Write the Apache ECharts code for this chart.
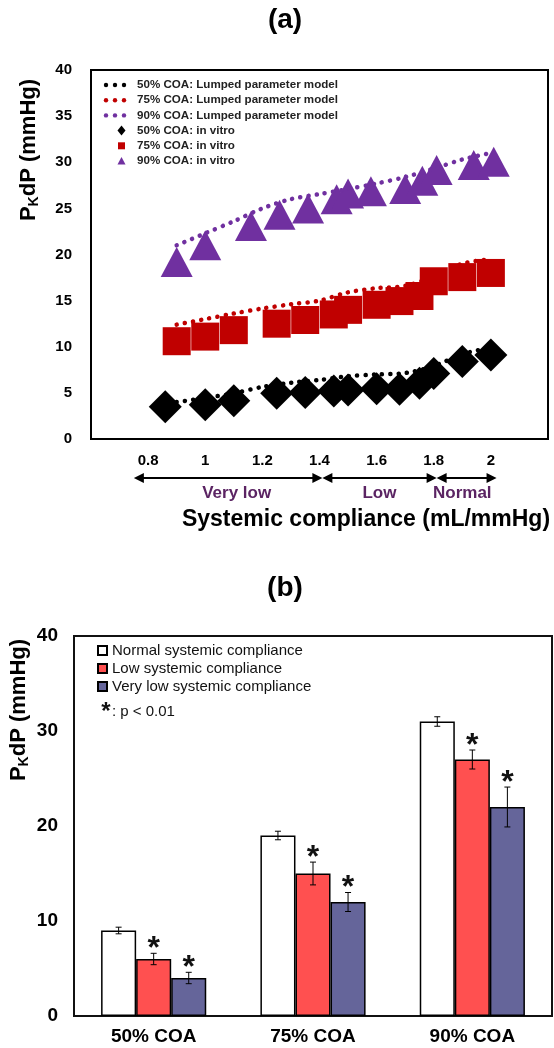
<!DOCTYPE html>
<html><head><meta charset="utf-8">
<script src="https://cdn.jsdelivr.net/npm/echarts@6/dist/echarts.min.js"></script>
<style>html,body{margin:0;padding:0;background:#fff}#c{width:554px;height:1048px}</style>
</head><body><div id="c"></div>
<script>
// ---------- Panel (a) data ----------
const seriesNamesA = ['50% COA: Lumped parameter model','75% COA: Lumped parameter model','90% COA: Lumped parameter model','50% COA: in vitro','75% COA: in vitro','90% COA: in vitro'];
const modelCompliance = [0.9,1.0,1.1,1.2,1.3,1.4,1.5,1.6,1.7,1.8,1.9,2.0];
const model50 = [4.0,4.45,4.95,5.65,6.1,6.4,6.8,7.0,7.15,7.9,9.2,9.9];
const model75 = [12.4,13.0,13.6,14.15,14.6,15.0,15.9,16.35,16.6,17.6,19.0,19.5];
const model90 = [21.0,22.3,23.6,25.0,26.0,26.55,27.1,27.7,28.4,29.3,30.3,31.0];
const compliance50 = [0.86,1.0,1.1,1.25,1.35,1.45,1.5,1.6,1.68,1.75,1.8,1.9,2.0];
const vitro50 = [3.5,3.7,4.15,4.95,5.05,5.2,5.3,5.45,5.4,6.05,7.1,8.4,9.1];
const compliance75 = [0.9,1.0,1.1,1.25,1.35,1.45,1.5,1.6,1.68,1.75,1.8,1.9,2.0];
const vitro75 = [10.6,11.1,11.8,12.5,12.9,13.5,14.0,14.55,14.95,15.5,17.1,17.55,18.0];
const compliance90 = [0.9,1.0,1.16,1.26,1.36,1.46,1.5,1.58,1.7,1.76,1.81,1.94,2.01];
const vitro90 = [19.2,21.0,23.1,24.3,25.0,26.0,26.6,26.85,27.1,28.0,29.15,29.7,30.05];
const complianceRanges = [['Very low',0.75,1.41,1.11],['Low',1.41,1.81,1.61],['Normal',1.81,2.02,1.9]];

// ---------- Panel (b) data ----------
const coaLabels = ['50% COA','75% COA','90% COA'];
const seriesNamesB = ['Normal systemic compliance','Low systemic compliance','Very low systemic compliance'];
const normalVals = [9,19,31];
const normalErr = [0.35,0.45,0.5];
const lowVals = [6,15,27];
const lowErr = [0.6,1.2,1.0];
const veryLowVals = [4,12,22];
const veryLowErr = [0.6,1.0,2.1];
const lowSig = [1,1,1];
const veryLowSig = [1,1,1];

const FONT = '"Liberation Sans", Arial, sans-serif';
const PURPLE_TXT = '#5B2463';
const COLORS_A = ['#000000','#C00000','#7030A0'];
const dotted = (c) => ({color: c, width: 4.5, type: [0.1, 8.2], cap: 'round'});
const zip = (xs, ys) => xs.map((x, i) => [x, ys[i]]);

const errData = [];
[[normalVals, normalErr, [0,0,0]], [lowVals, lowErr, lowSig], [veryLowVals, veryLowErr, veryLowSig]].forEach((s, si) => {
  s[0].forEach((v, ci) => errData.push([ci, si, v, s[1][ci], s[2][ci]]));
});
const GAP = 0.34;

const chart = echarts.init(document.getElementById('c'), null, {renderer: 'canvas'});
chart.setOption({
  animation: false,
  textStyle: {fontFamily: FONT},
  grid: [
    {left: 91, right: 6, top: 70, bottom: 609, show: true, borderColor: '#000', borderWidth: 2, backgroundColor: '#fff'},
    {left: 74, right: 2, top: 636, bottom: 32, show: true, borderColor: '#111', borderWidth: 2, backgroundColor: '#fff'}
  ],
  xAxis: [
    {type: 'value', gridIndex: 0, min: 0.6, max: 2.2, interval: 0.2,
     axisLine: {show: false}, axisTick: {show: false}, splitLine: {show: false},
     axisLabel: {margin: 14, fontSize: 15, fontWeight: 'bold', color: '#000', fontFamily: FONT,
       formatter: v => (Math.abs(v - 0.6) < 1e-6 || Math.abs(v - 2.2) < 1e-6) ? '' : String(+v.toFixed(1))}},
    {type: 'category', gridIndex: 1, data: coaLabels,
     axisLine: {show: false}, axisTick: {show: false},
     axisLabel: {margin: 11, fontSize: 19, fontWeight: 'bold', color: '#000', fontFamily: FONT}}
  ],
  yAxis: [
    {type: 'value', gridIndex: 0, min: 0, max: 40, interval: 5,
     axisLine: {show: false}, axisTick: {show: false}, splitLine: {show: false},
     axisLabel: {margin: 19, fontSize: 15, fontWeight: 'bold', color: '#000', fontFamily: FONT}},
    {type: 'value', gridIndex: 1, min: 0, max: 40, interval: 10,
     axisLine: {show: false}, axisTick: {show: false}, splitLine: {show: false},
     axisLabel: {margin: 16, fontSize: 19, fontWeight: 'bold', color: '#000', fontFamily: FONT}}
  ],
  legend: [
    {data: seriesNamesB, orient: 'vertical', left: 97, top: 643, padding: 0, itemGap: 3,
     itemWidth: 9, itemHeight: 9, icon: 'rect',
     textStyle: {fontSize: 15, color: '#111', fontFamily: FONT}}
  ],
  series: [
    {name: seriesNamesA[0], type: 'line', xAxisIndex: 0, yAxisIndex: 0, data: zip(modelCompliance, model50), smooth: 0.3, symbol: 'none', showSymbol: false, lineStyle: dotted(COLORS_A[0]), itemStyle: {color: COLORS_A[0]}},
    {name: seriesNamesA[1], type: 'line', xAxisIndex: 0, yAxisIndex: 0, data: zip(modelCompliance, model75), smooth: 0.3, symbol: 'none', showSymbol: false, lineStyle: dotted(COLORS_A[1]), itemStyle: {color: COLORS_A[1]}},
    {name: seriesNamesA[2], type: 'line', xAxisIndex: 0, yAxisIndex: 0, data: zip(modelCompliance, model90), smooth: 0.3, symbol: 'none', showSymbol: false, lineStyle: dotted(COLORS_A[2]), itemStyle: {color: COLORS_A[2]}},
    {name: seriesNamesA[3], type: 'scatter', xAxisIndex: 0, yAxisIndex: 0, data: zip(compliance50, vitro50), symbol: 'diamond', symbolSize: 33, itemStyle: {color: COLORS_A[0], opacity: 1}},
    {name: seriesNamesA[4], type: 'scatter', xAxisIndex: 0, yAxisIndex: 0, data: zip(compliance75, vitro75), symbol: 'rect', symbolSize: 28, itemStyle: {color: COLORS_A[1], opacity: 1}},
    {name: seriesNamesA[5], type: 'scatter', xAxisIndex: 0, yAxisIndex: 0, data: zip(compliance90, vitro90), symbol: 'triangle', symbolSize: [32, 30], itemStyle: {color: COLORS_A[2], opacity: 1}},
    {name: seriesNamesB[0], type: 'bar', xAxisIndex: 1, yAxisIndex: 1, data: normalVals, barGap: 0, barCategoryGap: (GAP * 100) + '%', itemStyle: {color: '#FFFFFF', borderColor: '#000', borderWidth: 1.5}},
    {name: seriesNamesB[1], type: 'bar', xAxisIndex: 1, yAxisIndex: 1, data: lowVals, barGap: 0, barCategoryGap: (GAP * 100) + '%', itemStyle: {color: '#FF5050', borderColor: '#000', borderWidth: 1.5}},
    {name: seriesNamesB[2], type: 'bar', xAxisIndex: 1, yAxisIndex: 1, data: veryLowVals, barGap: 0, barCategoryGap: (GAP * 100) + '%', itemStyle: {color: '#65659A', borderColor: '#000', borderWidth: 1.5}},
    {type: 'custom', xAxisIndex: 1, yAxisIndex: 1, data: errData, z: 10, encode: {x: 0, y: 2},
     renderItem: (params, api) => {
       const ci = api.value(0), si = api.value(1), v = api.value(2), e = api.value(3), star = api.value(4);
       const c = api.coord([ci, v]);
       const band = api.size([1, 0])[0];
       const bw = band * (1 - GAP) / 3;
       const x = c[0] + (si - 1) * bw;
       const t = api.coord([ci, v + e])[1], b = api.coord([ci, v - e])[1];
       const ls = {stroke: '#000', lineWidth: 1};
       const ch = [
         {type: 'line', shape: {x1: x, y1: t, x2: x, y2: b}, style: ls},
         {type: 'line', shape: {x1: x - 3, y1: t, x2: x + 3, y2: t}, style: ls},
         {type: 'line', shape: {x1: x - 3, y1: b, x2: x + 3, y2: b}, style: ls}
       ];
       if (star) ch.push({type: 'text', style: {text: '*', x: x, y: t - 4, font: 'bold 32px ' + FONT, fill: '#111', align: 'center', verticalAlign: 'middle'}});
       return {type: 'group', children: ch};
     }}
  ]
});

// annotation graphics (positions of range arrows come from the x axis scale)
const px = v => chart.convertToPixel({xAxisIndex: 0}, v);
const AY = 478;
const g = [];
const yName = (x, y) => ({type: 'text', x: x, y: y, rotation: Math.PI / 2,
  style: {text: '{a|P}{b|K}{a|dP (mmHg)}', x: 0, y: 0, align: 'center', verticalAlign: 'middle',
    rich: {a: {fontSize: 22, fontWeight: 'bold', fontFamily: FONT, fill: '#000', lineHeight: 24},
           b: {fontSize: 14, fontWeight: 'bold', fontFamily: FONT, fill: '#000', verticalAlign: 'bottom', lineHeight: 14}}}});
g.push({type: 'text', style: {text: '(a)', x: 285, y: 20, font: 'bold 28px ' + FONT, fill: '#000', align: 'center', verticalAlign: 'middle'}});
g.push({type: 'text', style: {text: '(b)', x: 285, y: 588, font: 'bold 28px ' + FONT, fill: '#000', align: 'center', verticalAlign: 'middle'}});
g.push(yName(29, 150));
g.push(yName(19, 710));
g.push({type: 'text', style: {text: 'Systemic compliance (mL/mmHg)', x: 366, y: 520, font: 'bold 23px ' + FONT, fill: '#000', align: 'center', verticalAlign: 'middle'}});
complianceRanges.forEach(r => {
  const x1 = px(r[1]), x2 = px(r[2]);
  const hl = 10, hw = 5;
  g.push({type: 'line', shape: {x1: x1 + hl - 1, y1: AY, x2: x2 - hl + 1, y2: AY}, style: {stroke: '#000', lineWidth: 2}});
  g.push({type: 'polygon', shape: {points: [[x1, AY], [x1 + hl, AY - hw], [x1 + hl, AY + hw]]}, style: {fill: '#000'}});
  g.push({type: 'polygon', shape: {points: [[x2, AY], [x2 - hl, AY - hw], [x2 - hl, AY + hw]]}, style: {fill: '#000'}});
  g.push({type: 'text', style: {text: r[0], x: px(r[3]), y: 493, font: 'bold 17px ' + FONT, fill: PURPLE_TXT, align: 'center', verticalAlign: 'middle'}});
});
// legend of panel (a)
const LX = 137, LY0 = 85, LDY = 15.2;
seriesNamesA.forEach((name, i) => {
  const y = LY0 + i * LDY, col = COLORS_A[i % 3];
  if (i < 3) {
    [106, 115, 124].forEach(cx => g.push({type: 'circle', shape: {cx: cx, cy: y, r: 2.2}, style: {fill: col}}));
  } else if (i === 3) {
    g.push({type: 'polygon', shape: {points: [[121.5, y - 5], [125.5, y], [121.5, y + 5], [117.5, y]]}, style: {fill: col}});
  } else if (i === 4) {
    g.push({type: 'rect', shape: {x: 118, y: y - 3.5, width: 7, height: 7}, style: {fill: col}});
  } else {
    g.push({type: 'polygon', shape: {points: [[121.5, y - 4], [125.5, y + 3.5], [117.5, y + 3.5]]}, style: {fill: col}});
  }
  g.push({type: 'text', style: {text: name, x: LX, y: y, font: 'bold 11.6px ' + FONT, fill: '#222', align: 'left', verticalAlign: 'middle'}});
});
g.push({type: 'text', style: {text: '*', x: 106, y: 712, font: 'bold 24px ' + FONT, fill: '#111', align: 'center', verticalAlign: 'middle'}});
g.push({type: 'text', style: {text: ': p < 0.01', x: 112, y: 712, font: '15px ' + FONT, fill: '#111', align: 'left', verticalAlign: 'middle'}});
chart.setOption({graphic: g});
</script></body></html>
